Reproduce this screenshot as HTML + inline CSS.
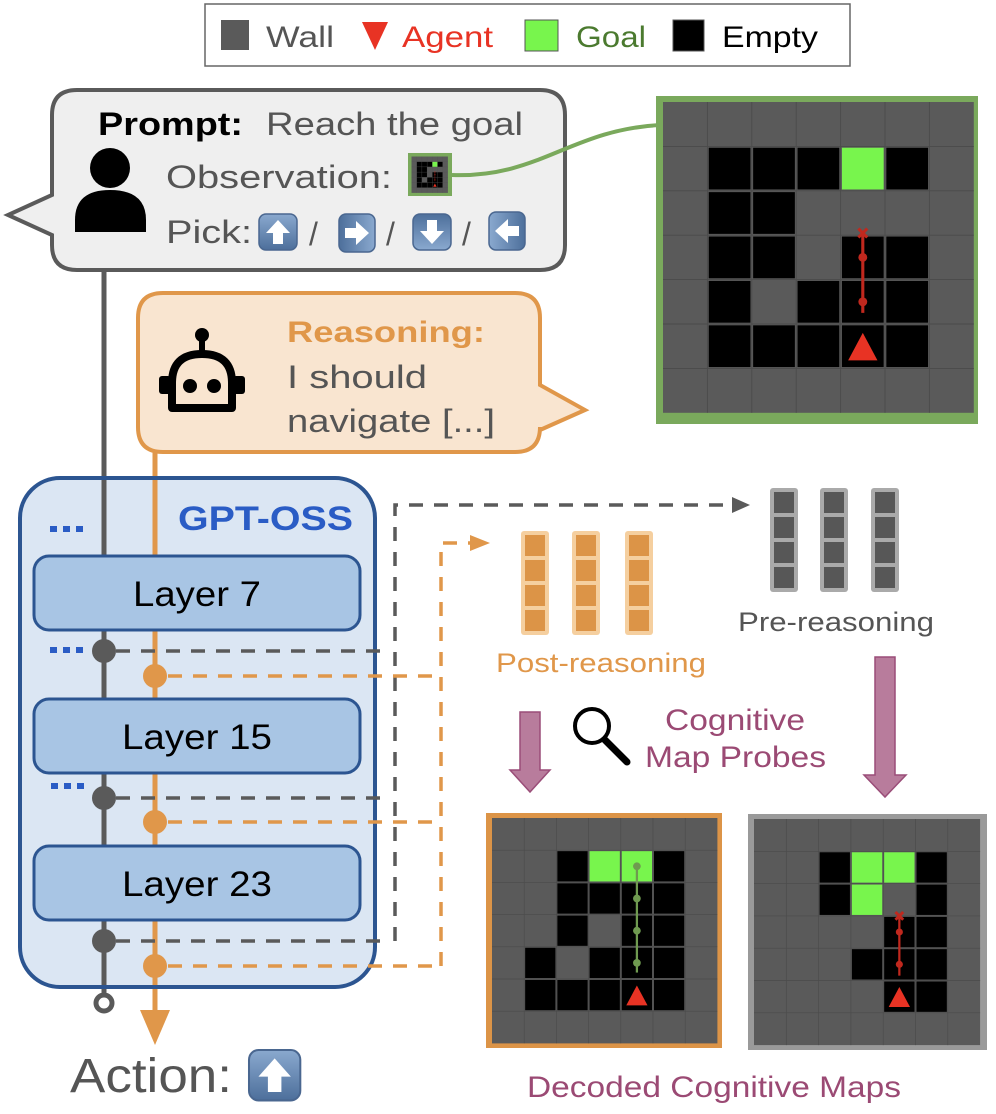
<!DOCTYPE html>
<html><head><meta charset="utf-8"><style>
html,body{margin:0;padding:0;background:#fff;}
svg{display:block;}
text{font-family:"Liberation Sans",sans-serif;}
</style></head><body>
<svg width="996" height="1114" viewBox="0 0 996 1114" xmlns="http://www.w3.org/2000/svg">
<defs>
<linearGradient id="bg" x1="0" y1="0" x2="0" y2="1"><stop offset="0" stop-color="#8aa9cf"/><stop offset="1" stop-color="#4d6f9b"/></linearGradient>
<g id="arr"><rect x="0" y="0" width="38" height="36" rx="7" fill="url(#bg)" stroke="#4a6790" stroke-width="1.5"/><path d="M19 6 L31 19 L24 19 L24 30 L14 30 L14 19 L7 19 Z" fill="#fff"/></g>
<g id="gridlines" stroke="#4b4b4b" stroke-width="0.02" fill="none">
<path d="M1 0V7M2 0V7M3 0V7M4 0V7M5 0V7M6 0V7M0 1H7M0 2H7M0 3H7M0 4H7M0 5H7M0 6H7"/>
</g>
<g id="maze1">
<rect x="0" y="0" width="7" height="7" fill="#5a5a5a"/>
<use href="#gridlines"/>
<g fill="#000">
<rect x="1.03" y="1.03" width="0.94" height="0.94"/><rect x="2.03" y="1.03" width="0.94" height="0.94"/><rect x="3.03" y="1.03" width="0.94" height="0.94"/><rect x="5.03" y="1.03" width="0.94" height="0.94"/>
<rect x="1.03" y="2.03" width="0.94" height="0.94"/><rect x="2.03" y="2.03" width="0.94" height="0.94"/>
<rect x="1.03" y="3.03" width="0.94" height="0.94"/><rect x="2.03" y="3.03" width="0.94" height="0.94"/><rect x="4.03" y="3.03" width="0.94" height="0.94"/><rect x="5.03" y="3.03" width="0.94" height="0.94"/>
<rect x="1.03" y="4.03" width="0.94" height="0.94"/><rect x="3.03" y="4.03" width="0.94" height="0.94"/><rect x="4.03" y="4.03" width="0.94" height="0.94"/><rect x="5.03" y="4.03" width="0.94" height="0.94"/>
<rect x="1.03" y="5.03" width="0.94" height="0.94"/><rect x="2.03" y="5.03" width="0.94" height="0.94"/><rect x="3.03" y="5.03" width="0.94" height="0.94"/><rect x="4.03" y="5.03" width="0.94" height="0.94"/><rect x="5.03" y="5.03" width="0.94" height="0.94"/>
</g>
<rect x="4.03" y="1.03" width="0.94" height="0.94" fill="#78f54d"/>
<polygon points="4.5,5.2 4.17,5.82 4.83,5.82" fill="#e83324"/>
<g stroke="#c0281e" stroke-width="0.07" fill="#c0281e">
<line x1="4.5" y1="4.75" x2="4.5" y2="2.95"/>
<circle cx="4.5" cy="3.5" r="0.1" stroke="none"/><circle cx="4.5" cy="4.5" r="0.1" stroke="none"/>
<path d="M4.4 2.85L4.6 3.05M4.6 2.85L4.4 3.05" stroke-width="0.07"/>
</g>
</g>
</defs>

<!-- Legend -->
<rect x="205" y="4" width="645" height="62" fill="#fff" stroke="#666" stroke-width="1.5"/>
<rect x="221" y="20" width="28" height="30" fill="#5a5a5a"/>
<text x="266" y="47" font-size="30" fill="#555" textLength="68" lengthAdjust="spacingAndGlyphs">Wall</text>
<polygon points="362,22 388,22 375,50" fill="#e83324"/>
<text x="402" y="47" font-size="30" fill="#e83324" textLength="91" lengthAdjust="spacingAndGlyphs">Agent</text>
<rect x="525" y="20" width="33" height="31" fill="#78f54d" stroke="#555" stroke-width="1"/>
<text x="576" y="47" font-size="30" fill="#4b7a2f" textLength="70" lengthAdjust="spacingAndGlyphs">Goal</text>
<rect x="673" y="20" width="31" height="31" fill="#000" stroke="#555" stroke-width="1"/>
<text x="722" y="47" font-size="30" fill="#000" textLength="96" lengthAdjust="spacingAndGlyphs">Empty</text>

<!-- connectors vertical -->
<line x1="104" y1="268" x2="104" y2="995" stroke="#5a5a5a" stroke-width="5"/>
<circle cx="104" cy="1003" r="8" fill="#fff" stroke="#5a5a5a" stroke-width="5"/>
<line x1="155" y1="450" x2="155" y2="1018" stroke="#e0974a" stroke-width="5"/>
<polygon points="140,1010 170,1010 155,1045" fill="#e0974a"/>

<!-- Prompt box -->
<path d="M77 90 H540 Q565 90 565 115 V245 Q565 270 540 270 H77 Q52 270 52 245 V235 L8 215 L52 195 V115 Q52 90 77 90 Z" fill="#efefef" stroke="#5a5a5a" stroke-width="4"/>
<circle cx="110" cy="168" r="20" fill="#000"/>
<path d="M75 232 V220 Q75 190 110 190 Q146 190 146 220 V232 Z" fill="#000"/>
<text x="98" y="135" font-size="32" font-weight="bold" fill="#000" textLength="145" lengthAdjust="spacingAndGlyphs">Prompt:</text>
<text x="266" y="135" font-size="32" fill="#555" textLength="257" lengthAdjust="spacingAndGlyphs">Reach the goal</text>
<text x="166" y="188" font-size="32" fill="#555" textLength="226" lengthAdjust="spacingAndGlyphs">Observation:</text>
<rect x="408" y="153" width="44" height="43" fill="#7aa95c"/>
<g transform="translate(411.5,156.5) scale(5.2)"><use href="#maze1"/></g>
<text x="166" y="243" font-size="32" fill="#555" textLength="86" lengthAdjust="spacingAndGlyphs">Pick:</text>
<use href="#arr" x="259" y="214"/>
<text x="309" y="245" font-size="32" fill="#555">/</text>
<g transform="translate(375,214) rotate(90)"><use href="#arr"/></g>
<text x="386" y="245" font-size="32" fill="#555">/</text>
<g transform="translate(451,250) rotate(180)"><use href="#arr"/></g>
<text x="462" y="245" font-size="32" fill="#555">/</text>
<g transform="translate(489,250) rotate(-90)"><use href="#arr"/></g>

<!-- green connector -->
<path d="M452 175 C540 178 570 130 660 125" fill="none" stroke="#7aa95c" stroke-width="4"/>

<!-- Top-right maze -->
<rect x="656" y="96" width="322" height="328" fill="#7aa95c"/>
<g transform="translate(663,102) scale(44.4,44.4)"><use href="#maze1"/></g>

<!-- Reasoning box -->
<path d="M163 293 H515 Q540 293 540 318 V385 L585 410 L540 430 V427 Q540 452 515 452 H163 Q138 452 138 427 V318 Q138 293 163 293 Z" fill="#f9e5d0" stroke="#e0974a" stroke-width="4"/>
<circle cx="202" cy="335" r="7" fill="#000"/>
<line x1="202" y1="338" x2="202" y2="352" stroke="#000" stroke-width="6"/>
<path d="M172 408 V383 Q172 354 202 354 Q232 354 232 383 V408 Z" fill="none" stroke="#000" stroke-width="8" stroke-linejoin="round"/>
<rect x="159" y="376" width="12" height="18" rx="3" fill="#000"/><rect x="233" y="376" width="12" height="18" rx="3" fill="#000"/>
<circle cx="190" cy="386" r="7" fill="#000"/><circle cx="214" cy="386" r="7" fill="#000"/>
<text x="287" y="342" font-size="30" font-weight="bold" fill="#e0974a" textLength="198" lengthAdjust="spacingAndGlyphs">Reasoning:</text>
<text x="287" y="388" font-size="32" fill="#555" textLength="140" lengthAdjust="spacingAndGlyphs">I should</text>
<text x="287" y="432" font-size="32" fill="#555" textLength="208" lengthAdjust="spacingAndGlyphs">navigate [...]</text>

<!-- GPT-OSS box -->
<rect x="20" y="478" width="355" height="509" rx="40" fill="#d5e2f1" fill-opacity="0.85" stroke="#2c5591" stroke-width="4"/>
<line x1="104" y1="480" x2="104" y2="985" stroke="#5a5a5a" stroke-width="5"/>
<line x1="155" y1="480" x2="155" y2="985" stroke="#e0974a" stroke-width="5"/>
<text x="178" y="530" font-size="34" font-weight="bold" fill="#2a5cc5" textLength="175" lengthAdjust="spacingAndGlyphs">GPT-OSS</text>
<g fill="#2a5cc5"><rect x="50" y="526" width="7" height="6"/><rect x="63" y="526" width="7" height="6"/><rect x="76" y="526" width="7" height="6"/>
<rect x="50" y="647" width="7" height="6"/><rect x="63" y="647" width="7" height="6"/><rect x="76" y="647" width="7" height="6"/>
<rect x="51" y="783" width="7" height="6"/><rect x="64" y="783" width="7" height="6"/><rect x="77" y="783" width="7" height="6"/></g>
<g fill="#a8c5e4" stroke="#2c5591" stroke-width="3">
<rect x="34" y="556" width="326" height="74" rx="15"/>
<rect x="34" y="699" width="326" height="74" rx="15"/>
<rect x="34" y="846" width="326" height="74" rx="15"/>
</g>
<text x="133" y="606" font-size="35" fill="#000" textLength="128" lengthAdjust="spacingAndGlyphs">Layer 7</text>
<text x="122" y="749" font-size="35" fill="#000" textLength="150" lengthAdjust="spacingAndGlyphs">Layer 15</text>
<text x="122" y="896" font-size="35" fill="#000" textLength="150" lengthAdjust="spacingAndGlyphs">Layer 23</text>

<!-- dashed connectors -->
<g fill="none" stroke="#5a5a5a" stroke-width="3.5" stroke-dasharray="14 11">
<path d="M116 651 H380"/><path d="M116 798 H388"/><path d="M116 941 H386"/>
<path d="M395 941 V505 H735"/>
</g>
<polygon points="732,497 750,505 732,513" fill="#5a5a5a"/>
<g fill="none" stroke="#e0974a" stroke-width="3.5" stroke-dasharray="14 11">
<path d="M168 676 H436"/><path d="M168 822 H436"/><path d="M168 966 H441"/>
<path d="M441 966 V543 H478"/>
</g>
<polygon points="470,535 490,543 470,551" fill="#e0974a"/>
<g fill="#5a5a5a"><circle cx="104" cy="651" r="12"/><circle cx="104" cy="798" r="12"/><circle cx="104" cy="941" r="12"/></g>
<g fill="#e0974a"><circle cx="155" cy="676" r="12"/><circle cx="155" cy="822" r="12"/><circle cx="155" cy="966" r="12"/></g>

<!-- vector stacks -->
<g fill="#f5cf9f"><rect x="521" y="531" width="28" height="104" rx="3"/><rect x="572" y="531" width="28" height="104" rx="3"/><rect x="625" y="531" width="28" height="104" rx="3"/></g>
<g fill="#dc9447">
<rect x="525" y="535" width="20" height="21"/><rect x="525" y="560" width="20" height="21"/><rect x="525" y="585" width="20" height="21"/><rect x="525" y="610" width="20" height="21"/>
<rect x="576" y="535" width="20" height="21"/><rect x="576" y="560" width="20" height="21"/><rect x="576" y="585" width="20" height="21"/><rect x="576" y="610" width="20" height="21"/>
<rect x="629" y="535" width="20" height="21"/><rect x="629" y="560" width="20" height="21"/><rect x="629" y="585" width="20" height="21"/><rect x="629" y="610" width="20" height="21"/>
</g>
<g fill="#aaa"><rect x="770" y="488" width="28" height="104" rx="3"/><rect x="820" y="488" width="28" height="104" rx="3"/><rect x="871" y="488" width="28" height="104" rx="3"/></g>
<g fill="#575757">
<rect x="774" y="492" width="20" height="21"/><rect x="774" y="517" width="20" height="21"/><rect x="774" y="542" width="20" height="21"/><rect x="774" y="567" width="20" height="21"/>
<rect x="824" y="492" width="20" height="21"/><rect x="824" y="517" width="20" height="21"/><rect x="824" y="542" width="20" height="21"/><rect x="824" y="567" width="20" height="21"/>
<rect x="875" y="492" width="20" height="21"/><rect x="875" y="517" width="20" height="21"/><rect x="875" y="542" width="20" height="21"/><rect x="875" y="567" width="20" height="21"/>
</g>
<text x="496" y="672" font-size="27" fill="#e0974a" textLength="210" lengthAdjust="spacingAndGlyphs">Post-reasoning</text>
<text x="738" y="631" font-size="27" fill="#555" textLength="196" lengthAdjust="spacingAndGlyphs">Pre-reasoning</text>

<!-- pink arrows -->
<g fill="#b87c9c" stroke="#9a4d78" stroke-width="1.5">
<path d="M520 712 H540 V770 H550 L530 792 L510 770 H520 Z"/>
<path d="M875 657 H895 V775 H906 L885 797 L864 775 H875 Z"/>
</g>
<circle cx="592" cy="726" r="17" fill="none" stroke="#000" stroke-width="4"/>
<line x1="605" y1="740" x2="627" y2="762" stroke="#000" stroke-width="7" stroke-linecap="round"/>
<text x="665" y="730" font-size="30" fill="#9b4a74" textLength="140" lengthAdjust="spacingAndGlyphs">Cognitive</text>
<text x="645" y="767" font-size="30" fill="#9b4a74" textLength="181" lengthAdjust="spacingAndGlyphs">Map Probes</text>

<!-- bottom mazes -->
<rect x="486" y="813" width="236" height="235" fill="#dc9447"/>
<g transform="translate(492,818) scale(32.2)">
<rect x="0" y="0" width="7" height="7" fill="#5a5a5a"/>
<use href="#gridlines"/>
<g fill="#000">
<rect x="2.03" y="1.03" width="0.94" height="0.94"/><rect x="5.03" y="1.03" width="0.94" height="0.94"/>
<rect x="2.03" y="2.03" width="0.94" height="0.94"/><rect x="3.03" y="2.03" width="0.94" height="0.94"/><rect x="4.03" y="2.03" width="0.94" height="0.94"/><rect x="5.03" y="2.03" width="0.94" height="0.94"/>
<rect x="2.03" y="3.03" width="0.94" height="0.94"/><rect x="4.03" y="3.03" width="0.94" height="0.94"/><rect x="5.03" y="3.03" width="0.94" height="0.94"/>
<rect x="1.03" y="4.03" width="0.94" height="0.94"/><rect x="3.03" y="4.03" width="0.94" height="0.94"/><rect x="4.03" y="4.03" width="0.94" height="0.94"/><rect x="5.03" y="4.03" width="0.94" height="0.94"/>
<rect x="1.03" y="5.03" width="0.94" height="0.94"/><rect x="2.03" y="5.03" width="0.94" height="0.94"/><rect x="3.03" y="5.03" width="0.94" height="0.94"/><rect x="4.03" y="5.03" width="0.94" height="0.94"/><rect x="5.03" y="5.03" width="0.94" height="0.94"/>
</g>
<g fill="#78f54d"><rect x="3.03" y="1.03" width="0.94" height="0.94"/><rect x="4.03" y="1.03" width="0.94" height="0.94"/></g>
<polygon points="4.5,5.2 4.17,5.82 4.83,5.82" fill="#e83324"/>
<g fill="#6f9a50"><rect x="4.465" y="1.5" width="0.07" height="3.3"/>
<circle cx="4.5" cy="1.5" r="0.12"/><circle cx="4.5" cy="2.5" r="0.12"/><circle cx="4.5" cy="3.5" r="0.12"/><circle cx="4.5" cy="4.5" r="0.12"/></g>
</g>

<rect x="748" y="814" width="239" height="236" fill="#9a9a9a"/>
<g transform="translate(754,819) scale(32.3)">
<rect x="0" y="0" width="7" height="7" fill="#5a5a5a"/>
<use href="#gridlines"/>
<g fill="#000">
<rect x="2.03" y="1.03" width="0.94" height="0.94"/><rect x="5.03" y="1.03" width="0.94" height="0.94"/>
<rect x="2.03" y="2.03" width="0.94" height="0.94"/><rect x="5.03" y="2.03" width="0.94" height="0.94"/>
<rect x="4.03" y="3.03" width="0.94" height="0.94"/><rect x="5.03" y="3.03" width="0.94" height="0.94"/>
<rect x="3.03" y="4.03" width="0.94" height="0.94"/><rect x="4.03" y="4.03" width="0.94" height="0.94"/><rect x="5.03" y="4.03" width="0.94" height="0.94"/>
<rect x="4.03" y="5.03" width="0.94" height="0.94"/><rect x="5.03" y="5.03" width="0.94" height="0.94"/>
</g>
<g fill="#78f54d"><rect x="3.03" y="1.03" width="0.94" height="0.94"/><rect x="4.03" y="1.03" width="0.94" height="0.94"/><rect x="3.03" y="2.03" width="0.94" height="0.94"/></g>
<polygon points="4.5,5.2 4.17,5.82 4.83,5.82" fill="#e83324"/>
<g fill="#c0281e"><rect x="4.465" y="3" width="0.07" height="1.85"/>
<circle cx="4.5" cy="3.5" r="0.11"/><circle cx="4.5" cy="4.5" r="0.11"/></g>
<path d="M4.38 2.88L4.62 3.12M4.62 2.88L4.38 3.12" stroke="#c0281e" stroke-width="0.09"/>
</g>

<text x="527" y="1097" font-size="30" fill="#9b4a74" textLength="374" lengthAdjust="spacingAndGlyphs">Decoded Cognitive Maps</text>

<!-- Action -->
<text x="70" y="1092" font-size="48" fill="#555" textLength="162" lengthAdjust="spacingAndGlyphs">Action:</text>
<g transform="translate(249,1050) scale(1.35,1.4)"><use href="#arr"/></g>
</svg>
</body></html>
